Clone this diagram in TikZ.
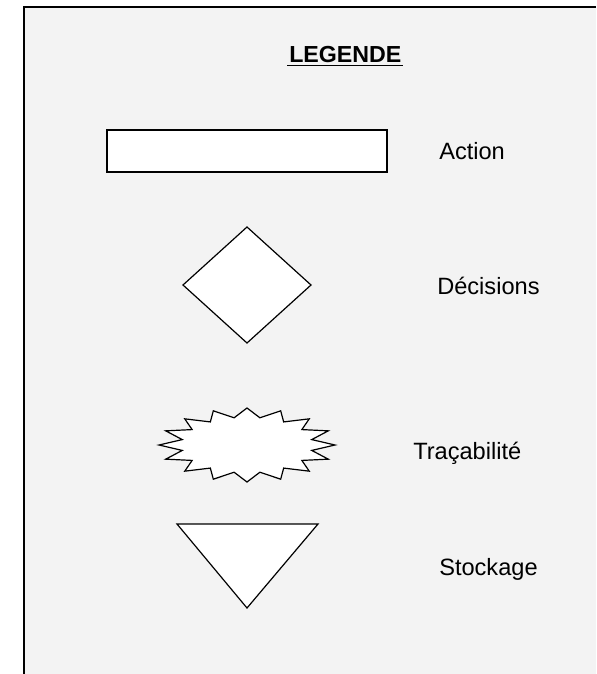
\documentclass[tikz,border=0pt]{standalone}
\usepackage{fontspec}
\setmainfont{Liberation Sans}
\usetikzlibrary{calc}
\definecolor{fondgris}{RGB}{243,243,243}

\begin{document}
\begin{tikzpicture}[x=0.75pt,y=-0.75pt,
  symb/.style={draw=black,fill=white,line width=0.9pt},
  legende/.style={anchor=base west,inner sep=0,font=\fontsize{17.7}{21}\selectfont}]
\useasboundingbox (0,0) rectangle (596,674);
% cadre
\fill[fondgris] (24,7) rectangle (596,674);
\draw[line width=1.5pt] (24,674) -- (24,7) -- (596,7);
% titre
\node[anchor=base west,inner sep=0,font=\bfseries\fontsize{17.4}{21}\selectfont] (titre) at (289,63) {LEGENDE};
\draw[line width=1.3pt] ($(titre.base west)+(-2,2.5)$) -- ($(titre.base east)+(1,2.5)$);
% symboles
\coordinate (A1) at (107,130);
\coordinate (A2) at (387,172);
\coordinate (D) at (247,285);
\coordinate (T) at (247,445);
\coordinate (S1) at (177,524);
\coordinate (S2) at (318,524);
\coordinate (S3) at (247,608);
\draw[symb,line width=1.1pt] (A1) rectangle (A2);
\draw[symb] ($(D)+(0,-58)$) -- ($(D)+(64,0)$) -- ($(D)+(0,58)$) -- ($(D)+(-64,0)$) -- cycle;
\draw[symb,shift={(T)}] (90:88 and 37)
  \foreach \i [evaluate=\i as \r using {1-0.25*mod(\i,2)}] in {1,...,31}
  { -- ({90+\i*11.25}:{88*\r} and {37*\r}) } -- cycle;
\draw[symb] (S1) -- (S2) -- (S3) -- cycle;
% textes
\node[legende] (action) at (439,159) {Action};
\node[legende] (decision) at (437,294) {Décisions};
\node[legende] (traca) at (413,459) {Traçabilité};
\node[legende] (stock) at (439,575) {Stockage};
\end{tikzpicture}
\end{document}
